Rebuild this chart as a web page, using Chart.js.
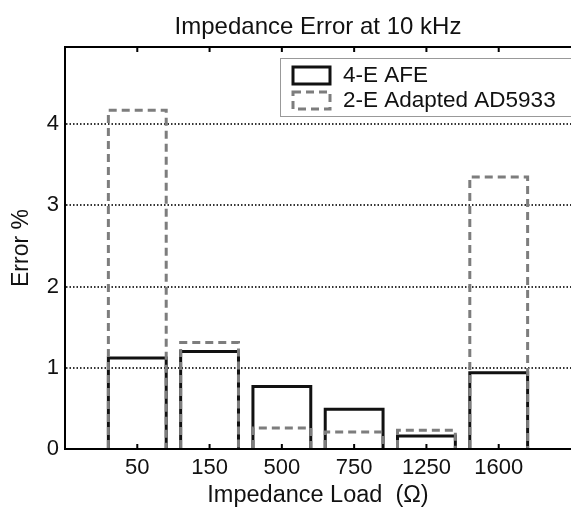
<!DOCTYPE html>
<html>
<head>
<meta charset="utf-8">
<script src="https://cdn.jsdelivr.net/npm/chart.js@4.4.0/dist/chart.umd.min.js"></script>
<style>
  html, body { margin: 0; padding: 0; background: #fff; overflow: hidden; }
  #wrap { width: 577px; height: 510px; }
</style>
</head>
<body>
<div id="wrap"><canvas id="errChart" width="577" height="510"></canvas></div>
<script>
// values
const categories = ['50', '150', '500', '750', '1250', '1600'];
const afe4E = [1.12, 1.20, 0.77, 0.49, 0.16, 0.94];
const ad5933 = [4.17, 1.31, 0.26, 0.21, 0.23, 3.35];
const yTicks = [0, 1, 2, 3, 4];

const FONT = '"Liberation Sans", Arial, Helvetica, sans-serif';
const FS = 22;

// blank slot on each side so the categories sit at 1..6 like the matlab axis
const labels = [''].concat(categories, ['']);
const pad = arr => [null].concat(arr, [null]);

// bars are drawn as hollow outlines (dash support)
const outlineBars = {
    id: 'outlineBars',
    afterDatasetsDraw(chart) {
        const ctx = chart.ctx;
        chart.data.datasets.forEach((ds, i) => {
            const meta = chart.getDatasetMeta(i);
            ctx.save();
            ctx.strokeStyle = ds.outlineColor;
            ctx.lineWidth = ds.outlineWidth;
            ctx.setLineDash(ds.outlineDash || []);
            meta.data.forEach((el, j) => {
                if (ds.data[j] == null) return;
                const p = el.getProps(['x', 'y', 'base', 'width'], true);
                ctx.beginPath();
                ctx.moveTo(p.x - p.width / 2, p.base);
                ctx.lineTo(p.x - p.width / 2, p.y);
                ctx.lineTo(p.x + p.width / 2, p.y);
                ctx.lineTo(p.x + p.width / 2, p.base);
                ctx.stroke();
            });
            ctx.restore();
        });
    }
};

// top frame line, inner tick marks, legend box
const frame = {
    id: 'frame',
    afterDraw(chart) {
        const ctx = chart.ctx;
        const a = chart.chartArea;
        const xs = chart.scales.x;
        ctx.save();
        ctx.strokeStyle = '#000';
        ctx.lineWidth = 2;
        ctx.beginPath();
        ctx.moveTo(a.left - 1, a.top);
        ctx.lineTo(a.right, a.top);
        ctx.stroke();
        for (let i = 1; i <= categories.length; i++) {
            const px = xs.getPixelForValue(i);
            ctx.beginPath();
            ctx.moveTo(px, a.bottom);
            ctx.lineTo(px, a.bottom - 5);
            ctx.moveTo(px, a.top);
            ctx.lineTo(px, a.top + 5);
            ctx.stroke();
        }

        // legend
        const lx = a.left + 215, ly = a.top + 11, lw = 300, lh = 58;
        ctx.fillStyle = '#fff';
        ctx.fillRect(lx, ly, lw, lh);
        ctx.strokeStyle = '#999';
        ctx.lineWidth = 1;
        ctx.strokeRect(lx + 0.5, ly + 0.5, lw, lh);
        ctx.font = '22.5px ' + FONT;
        ctx.textBaseline = 'middle';
        ctx.textAlign = 'left';
        chart.data.datasets.forEach((ds, i) => {
            const cy = ly + 17 + i * 25;
            ctx.strokeStyle = ds.outlineColor;
            ctx.lineWidth = ds.outlineWidth;
            ctx.setLineDash(ds.outlineDash || []);
            ctx.strokeRect(lx + 13, cy - 8, 37, 17);
            ctx.setLineDash([]);
            ctx.fillStyle = '#111';
            ctx.fillText(ds.label, lx + 63, cy + 1);
        });
        ctx.restore();
    }
};

window.onload = function() {
    const ctx = document.getElementById('errChart').getContext('2d');
    new Chart(ctx, {
        type: 'bar',
        data: {
            labels: labels,
            datasets: [{
                label: '4-E AFE',
                data: pad(afe4E),
                backgroundColor: 'rgba(0,0,0,0)',
                borderWidth: 0,
                grouped: false,
                categoryPercentage: 0.8,
                barPercentage: 1.0,
                outlineColor: '#111',
                outlineWidth: 3,
                outlineDash: []
            }, {
                label: '2-E Adapted AD5933',
                data: pad(ad5933),
                backgroundColor: 'rgba(0,0,0,0)',
                borderWidth: 0,
                grouped: false,
                categoryPercentage: 0.8,
                barPercentage: 1.0,
                outlineColor: '#7d7d7d',
                outlineWidth: 3,
                outlineDash: [8, 5]
            }]
        },
        options: {
            responsive: false,
            animation: false,
            events: [],
            layout: { padding: 0 },
            plugins: {
                legend: { display: false },
                tooltip: { enabled: false },
                title: {
                    display: true,
                    text: 'Impedance Error at 10 kHz',
                    fullSize: false,
                    color: '#111',
                    font: { family: FONT, size: 24, weight: 'normal' },
                    padding: { top: 13, bottom: 5.2 }
                }
            },
            scales: {
                x: {
                    type: 'category',
                    offset: false,
                    grid: { display: false, drawTicks: false },
                    border: { display: true, color: '#000', width: 2 },
                    ticks: {
                        autoSkip: false,
                        maxRotation: 0,
                        padding: 6,
                        color: '#111',
                        font: { family: FONT, size: FS }
                    },
                    title: {
                        display: true,
                        text: 'Impedance Load  (Ω)',
                        color: '#111',
                        font: { family: FONT, size: 23.5 },
                        padding: { top: 0, bottom: 0 }
                    },
                    afterFit: s => { s.height = 61; }
                },
                y: {
                    min: 0,
                    max: 4.95,
                    afterBuildTicks: s => { s.ticks = yTicks.map(v => ({ value: v })); },
                    grid: {
                        drawTicks: false,
                        color: c => (c.tick && c.tick.value === 0) ? 'rgba(0,0,0,0)' : '#333',
                        lineWidth: 2
                    },
                    border: { display: true, color: '#000', width: 2, dash: [1.5, 2] },
                    ticks: {
                        padding: 6,
                        color: '#111',
                        font: { family: FONT, size: FS }
                    },
                    title: {
                        display: true,
                        text: 'Error %',
                        color: '#111',
                        font: { family: FONT, size: 23 },
                        padding: { top: 8, bottom: 0 }
                    },
                    afterFit: s => { s.width = 65; }
                }
            }
        },
        plugins: [outlineBars, frame]
    });
};
</script>
</body>
</html>
